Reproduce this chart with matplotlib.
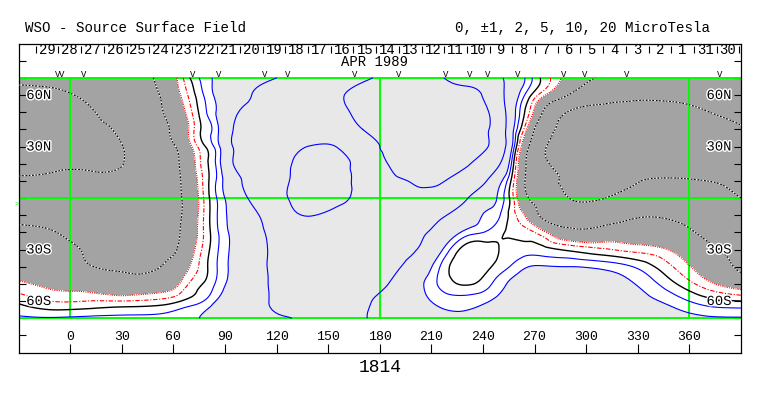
import matplotlib
matplotlib.use("Agg")
import numpy as np
import matplotlib.pyplot as plt
import matplotlib.tri as mtri
import matplotlib.patheffects as pe

plt.rcParams["font.family"] = ["Liberation Mono", "DejaVu Sans Mono"]

# grid nodes (Carrington longitude, latitude) of the source surface field
lons = [-30, -10, 10, 30, 50, 62, 70, 78, 86, 95, 110, 125, 140, 155, 170,
        185, 200, 215, 230, 242, 250, 257, 265, 275, 290, 310, 330, 350, 370, 390]
lats = [70, 60, 50, 40, 30, 20, 10, 0, -10, -20, -30, -40, -50, -60, -70]

# field values in microTesla, one row per latitude (north to south)
bfield = [
    [-9.2, -9.0, -8.0, -6.8, -4.7, -2.0, 0.1, 1.45, 2.36, 3.0, 4.2, 5.4, 6.8, 8.1, 9.5,
     10.6, 11.0, 10.3, 8.2, 6.4, 5.3, 3.8, 1.85, -0.3, -2.8, -5.5, -7.0, -7.8, -8.2, -8.5],
    [-11.0, -10.6, -9.3, -7.3, -5.35, -2.55, -0.6, 1.1, 2.4, 3.7, 5.5, 6.9, 8.25, 9.6, 10.8,
     11.5, 11.8, 11.5, 10.8, 9.3, 6.0, 3.3, 0.8, -1.7, -5.1, -8.5, -9.3, -9.4, -9.2, -8.8],
    [-12.0, -11.3, -10.4, -8.3, -5.8, -3.25, -1.2, 0.76, 2.24, 4.4, 6.0, 7.1, 8.3, 9.4, 10.6,
     11.6, 12.0, 12.0, 11.5, 10.4, 7.0, 2.9, -0.25, -5.2, -10.2, -11.0, -11.3, -11.0, -10.1, -9.0],
    [-12.5, -12.0, -11.0, -9.4, -6.35, -4.0, -1.65, 0.35, 1.93, 5.07, 6.05, 7.05, 8.0, 9.0, 10.0,
     11.2, 11.8, 11.9, 11.4, 10.3, 7.2, 2.5, -1.75, -7.9, -10.8, -11.8, -12.2, -12.2, -11.5, -10.3],
    [-12.8, -12.5, -11.7, -10.1, -6.9, -4.8, -2.25, -0.1, 1.7, 5.2, 6.8, 8.5, 10.1, 9.95, 9.4,
     10.5, 11.6, 12.0, 11.5, 10.2, 7.2, 2.0, -3.9, -9.3, -11.2, -12.2, -12.6, -12.5, -11.8, -11.0],
    [-10.8, -10.6, -10.5, -10.1, -7.2, -5.3, -2.95, -0.45, 1.49, 5.1, 7.24, 9.4, 11.2, 11.0, 9.3,
     10.05, 11.2, 11.5, 10.5, 7.9, 5.0, 0.64, -5.0, -9.3, -11.2, -12.0, -12.2, -12.2, -11.8, -11.2],
    [-9.7, -9.5, -9.3, -9.0, -6.9, -5.4, -3.38, -0.7, 1.29, 3.79, 6.94, 9.5, 12.0, 11.5, 9.2,
     9.5, 10.2, 10.3, 8.0, 5.05, 2.34, -0.4, -5.3, -8.6, -10.6, -11.2, -10.1, -9.7, -10.0, -10.5],
    [-7.7, -7.6, -8.3, -8.4, -7.2, -5.6, -3.6, -0.86, 1.18, 3.15, 6.5, 9.7, 11.5, 10.8, 9.3,
     9.2, 9.3, 8.3, 5.3, 3.16, 1.56, -0.64, -4.4, -6.9, -10.0, -10.1, -9.2, -9.0, -9.1, -10.0],
    [-5.8, -6.2, -6.9, -7.3, -7.0, -5.6, -3.47, -0.87, 1.1, 2.65, 5.05, 8.6, 10.1, 9.2, 8.5,
     7.8, 6.9, 5.4, 3.56, 1.73, 1.0, -0.55, -2.3, -5.8, -7.4, -7.2, -5.5, -5.7, -7.1, -8.9],
    [-4.5, -4.9, -6.0, -6.5, -6.3, -5.4, -3.24, -0.86, 0.97, 2.42, 4.5, 6.8, 8.2, 8.4, 7.9,
     6.9, 5.7, 4.1, 1.6, 0.9, 0.2, -0.2, -0.65, -1.67, -4.0, -3.7, -3.2, -4.0, -5.6, -7.6],
    [-3.6, -4.0, -5.3, -6.1, -6.0, -5.0, -2.74, -0.64, 0.98, 2.36, 4.4, 6.2, 7.4, 7.6, 7.0,
     6.1, 5.2, 2.42, -0.5, -0.5, 0.05, 0.4, 0.55, 0.35, -0.2, -0.85, -1.4, -2.2, -4.3, -6.0],
    [-2.7, -3.1, -4.8, -5.3, -5.2, -3.55, -1.9, -0.35, 1.1, 2.46, 4.5, 5.9, 6.8, 6.8, 6.3,
     5.6, 3.95, 1.0, -0.8, -0.3, 0.5, 1.15, 1.9, 2.1, 2.0, 1.7, 0.8, -0.95, -3.06, -5.6],
    [-1.8, -2.3, -2.9, -3.9, -3.4, -2.3, -0.8, 0.1, 1.34, 2.6, 4.5, 5.7, 6.2, 6.3, 5.9,
     5.0, 2.85, 0.8, -0.1, 0.6, 1.6, 2.3, 3.0, 3.4, 3.3, 2.8, 1.9, 0.25, -1.6, -3.1],
    [-0.25, -1.05, -1.0, -1.0, -0.74, -0.2, 0.4, 1.05, 2.2, 3.0, 4.5, 5.5, 5.8, 5.7, 5.3,
     4.2, 2.8, 1.7, 1.5, 1.9, 2.3, 2.6, 3.0, 3.4, 3.6, 3.5, 2.6, 1.6, 0.45, 0.0],
    [1.2, 1.1, 1.25, 1.3, 1.3, 1.5, 1.8, 2.2, 3.0, 3.6, 4.4, 4.9, 5.3, 5.2, 5.1,
     4.3, 3.0, 2.3, 2.3, 2.5, 2.7, 3.0, 3.2, 3.4, 3.6, 3.6, 3.4, 2.6, 2.2, 2.1],
]

# days along the top of the map (April 1989, then end of March)
days = [29, 28, 27, 26, 25, 24, 23, 22, 21, 20, 19, 18, 17, 16, 15, 14, 13, 12,
        11, 10, 9, 8, 7, 6, 5, 4, 3, 2, 1, 31, 30]
first_day_lon = -20.1
deg_per_day = 13.2

# longitudes of the "V" observation marks
obs_lons = [-7.4, -5.1, 8.0, 71.2, 86.5, 113.2, 126.3, 165.2, 191.2, 218.5,
            232.1, 242.9, 260.0, 287.1, 299.3, 323.6, 377.9]

lon_ticks = list(range(0, 361, 30))
lat_labels = {60: "60N", 30: "30N", -30: "30S", -60: "60S"}

DARK = "#a3a3a3"
LIGHT = "#e8e8e8"
GREEN = "#00ff00"

fig = plt.figure(figsize=(7.63, 3.96), dpi=100)
ax = fig.add_axes([18.7 / 763, 43.5 / 396, 722.2 / 763, 309 / 396])

lon2d, lat2d = np.meshgrid(lons, lats)
tri = mtri.Triangulation(lon2d.ravel(), lat2d.ravel())
refiner = mtri.UniformTriRefiner(tri)
tri_f, b_f = refiner.refine_field(np.array(bfield).ravel(), subdiv=3)

ax.tricontourf(tri_f, b_f, levels=[-100, -2, 2, 100], colors=[DARK, "white", LIGHT], zorder=1)

for lat in (70, 0, -70):
    ax.plot([-30, 390], [lat, lat], color=GREEN, lw=1.4, zorder=2)
for lon in (0, 180, 360):
    ax.plot([lon, lon], [-70, 70], color=GREEN, lw=1.4, zorder=2)

ax.tricontour(tri_f, b_f, levels=[1, 2, 5, 10], colors="blue", linewidths=0.8, zorder=3)
ax.tricontour(tri_f, b_f, levels=[0], colors="black", linewidths=1.0, zorder=3)
ax.tricontour(tri_f, b_f, levels=[-1], colors="red", linewidths=0.8,
              linestyles=[(0, (4, 1.5, 1, 1.5))], zorder=3)
ax.tricontour(tri_f, b_f, levels=[-2], colors="red", linewidths=0.8,
              linestyles=[(0, (1, 1))], zorder=3)
ax.tricontour(tri_f, b_f, levels=[-10, -5], colors="white", linewidths=0.8, zorder=3)
ax.tricontour(tri_f, b_f, levels=[-10, -5], colors="black", linewidths=0.8,
              linestyles=[(0, (1.5, 1.5))], zorder=3)

ax.set_xlim(-30, 390)
ax.set_ylim(-90, 90)
for s in ax.spines.values():
    s.set_linewidth(0.9)

ax.set_xticks(lon_ticks)
ax.set_xticklabels([])
ax.set_yticks(list(range(-80, 81, 10)))
ax.set_yticklabels([])
ax.tick_params(axis="x", direction="in", length=6.5, width=0.8, bottom=True, top=False)
ax.tick_params(axis="y", direction="in", length=5, width=0.8, left=True, right=True)

halo = [pe.withStroke(linewidth=2, foreground="white")]
for lon in lon_ticks:
    ax.text(lon, -81.2, str(lon), ha="center", va="center", fontsize=9.5)
for lat, lab in lat_labels.items():
    ax.text(-25.6, lat, lab, ha="left", va="center", fontsize=10, path_effects=halo, zorder=5)
    ax.text(384.6, lat, lab, ha="right", va="center", fontsize=10, path_effects=halo, zorder=5)

# day boundaries and day numbers along the top
edges = [first_day_lon + deg_per_day * k for k in range(len(days) + 1)]
ax.vlines([e for e in edges if e < 390], 84.7, 88.6, color="black", lw=0.8)
for k, d in enumerate(days):
    ax.text(first_day_lon + deg_per_day * (k + 0.5), 86.5, str(d),
            ha="center", va="center", fontsize=10)
ax.text(177, 79.2, "APR 1989", ha="center", va="center", fontsize=10)
for lon in obs_lons:
    ax.text(lon, 71.9, "V", ha="center", va="center", fontsize=6.5)

fig.text(25 / 763, 1 - 27.7 / 396, "WSO - Source Surface Field", ha="left", va="center", fontsize=10.2)
fig.text(710 / 763, 1 - 27.7 / 396, "0, \u00b11, 2, 5, 10, 20 MicroTesla", ha="right", va="center",
         fontsize=10.2)
fig.text(380 / 763, 1 - 368 / 396, "1814", ha="center", va="center", fontsize=13)
fig.text(17 / 763, 1 - 204 / 396, ">", ha="center", va="center", fontsize=5, color=GREEN)

fig.savefig("out.png", dpi=100)
